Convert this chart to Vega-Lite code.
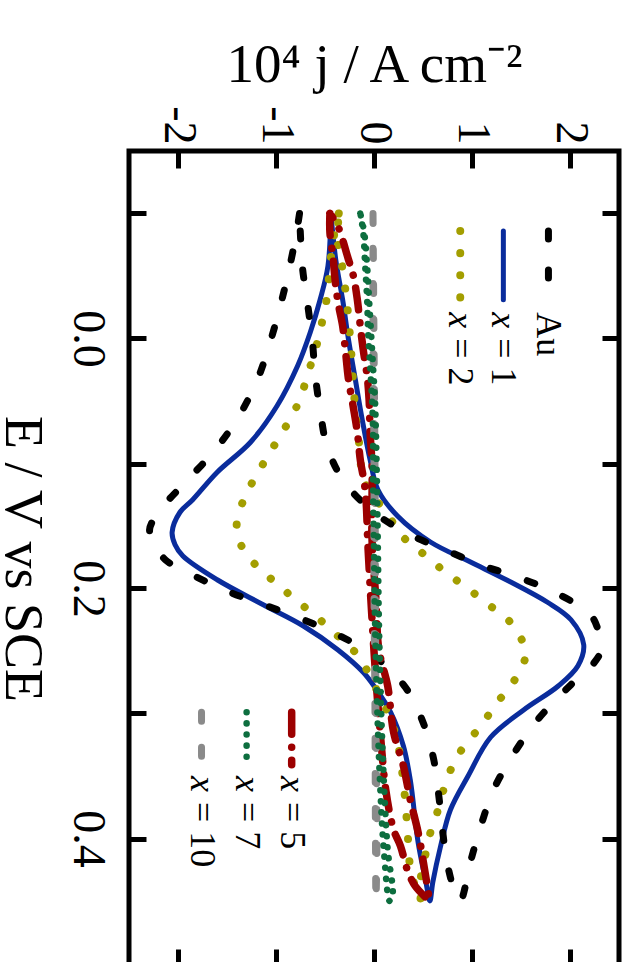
{
"$schema":"https://vega.github.io/schema/vega-lite/v6.json",
"width":490,"height":815,
"autosize":{"type":"none"},
"padding":{"left":129,"top":151,"right":9,"bottom":0},
"config":{
 "view":{"stroke":"black","strokeWidth":5},
 "font":"Liberation Serif",
 "axis":{"grid":false,"domain":false,"tickColor":"black","tickWidth":5,"tickSize":-17,"labelColor":"black","titleColor":"black","labelFont":"Liberation Serif","titleFont":"Liberation Serif","titleFontWeight":"normal","labelOverlap":false,"labelFlush":false}
},
"resolve":{"axis":{"x":"independent","y":"independent"}},
"datasets":{
"cv":[
{"s":"Au","i":0,"j":-0.76,"E":-0.1},{"s":"Au","i":1,"j":-0.79,"E":-0.085},{"s":"Au","i":2,"j":-0.87,"E":-0.054},{"s":"Au","i":3,"j":-0.96,"E":-0.025},{"s":"Au","i":4,"j":-1.06,"E":0.003},{"s":"Au","i":5,"j":-1.18,"E":0.031},{"s":"Au","i":6,"j":-1.37,"E":0.061},{"s":"Au","i":7,"j":-1.62,"E":0.089},{"s":"Au","i":8,"j":-1.95,"E":0.117},{"s":"Au","i":9,"j":-2.18,"E":0.137},{"s":"Au","i":10,"j":-2.29,"E":0.153},{"s":"Au","i":11,"j":-2.23,"E":0.165},{"s":"Au","i":12,"j":-2.13,"E":0.177},{"s":"Au","i":13,"j":-1.83,"E":0.19},{"s":"Au","i":14,"j":-1.47,"E":0.203},{"s":"Au","i":15,"j":-1.09,"E":0.214},{"s":"Au","i":16,"j":-0.72,"E":0.225},{"s":"Au","i":17,"j":-0.37,"E":0.237},{"s":"Au","i":18,"j":0.0,"E":0.254},{"s":"Au","i":19,"j":0.32,"E":0.279},{"s":"Au","i":20,"j":0.51,"E":0.309},{"s":"Au","i":21,"j":0.61,"E":0.337},{"s":"Au","i":22,"j":0.66,"E":0.365},{"s":"Au","i":23,"j":0.7,"E":0.394},{"s":"Au","i":24,"j":0.75,"E":0.421},{"s":"Au","i":25,"j":0.84,"E":0.446},{"s":"Au","i":26,"j":0.88,"E":0.45},{"s":"Au","i":27,"j":0.99,"E":0.417},{"s":"Au","i":28,"j":1.09,"E":0.39},{"s":"Au","i":29,"j":1.22,"E":0.361},{"s":"Au","i":30,"j":1.42,"E":0.333},{"s":"Au","i":31,"j":1.67,"E":0.305},{"s":"Au","i":32,"j":2.01,"E":0.277},{"s":"Au","i":33,"j":2.23,"E":0.261},{"s":"Au","i":34,"j":2.32,"E":0.249},{"s":"Au","i":35,"j":2.3,"E":0.237},{"s":"Au","i":36,"j":2.21,"E":0.221},{"s":"Au","i":37,"j":1.84,"E":0.203},{"s":"Au","i":38,"j":1.47,"E":0.191},{"s":"Au","i":39,"j":1.12,"E":0.182},{"s":"Au","i":40,"j":0.75,"E":0.17},{"s":"Au","i":41,"j":0.37,"E":0.157},{"s":"Au","i":42,"j":0.0,"E":0.139},{"s":"Au","i":43,"j":-0.31,"E":0.114},{"s":"Au","i":44,"j":-0.48,"E":0.086},{"s":"Au","i":45,"j":-0.55,"E":0.057},{"s":"Au","i":46,"j":-0.6,"E":0.029},{"s":"Au","i":47,"j":-0.63,"E":0.001},{"s":"Au","i":48,"j":-0.68,"E":-0.029},{"s":"Au","i":49,"j":-0.73,"E":-0.057},{"s":"Au","i":50,"j":-0.76,"E":-0.1},
{"s":"x1","i":0,"j":-0.44,"E":-0.1},{"s":"x1","i":1,"j":-0.47,"E":-0.058},{"s":"x1","i":2,"j":-0.55,"E":-0.031},{"s":"x1","i":3,"j":-0.65,"E":-0.005},{"s":"x1","i":4,"j":-0.78,"E":0.022},{"s":"x1","i":5,"j":-0.99,"E":0.054},{"s":"x1","i":6,"j":-1.26,"E":0.083},{"s":"x1","i":7,"j":-1.6,"E":0.107},{"s":"x1","i":8,"j":-1.85,"E":0.129},{"s":"x1","i":9,"j":-1.98,"E":0.139},{"s":"x1","i":10,"j":-2.06,"E":0.155},{"s":"x1","i":11,"j":-2.03,"E":0.165},{"s":"x1","i":12,"j":-1.95,"E":0.174},{"s":"x1","i":13,"j":-1.6,"E":0.193},{"s":"x1","i":14,"j":-1.13,"E":0.213},{"s":"x1","i":15,"j":-0.72,"E":0.23},{"s":"x1","i":16,"j":-0.37,"E":0.249},{"s":"x1","i":17,"j":-0.11,"E":0.267},{"s":"x1","i":18,"j":0.0,"E":0.278},{"s":"x1","i":19,"j":0.17,"E":0.299},{"s":"x1","i":20,"j":0.3,"E":0.326},{"s":"x1","i":21,"j":0.37,"E":0.353},{"s":"x1","i":22,"j":0.45,"E":0.403},{"s":"x1","i":23,"j":0.53,"E":0.435},{"s":"x1","i":24,"j":0.57,"E":0.45},{"s":"x1","i":25,"j":0.6,"E":0.435},{"s":"x1","i":26,"j":0.68,"E":0.406},{"s":"x1","i":27,"j":0.78,"E":0.377},{"s":"x1","i":28,"j":0.96,"E":0.35},{"s":"x1","i":29,"j":1.19,"E":0.319},{"s":"x1","i":30,"j":1.53,"E":0.297},{"s":"x1","i":31,"j":1.88,"E":0.278},{"s":"x1","i":32,"j":2.08,"E":0.262},{"s":"x1","i":33,"j":2.14,"E":0.245},{"s":"x1","i":34,"j":2.01,"E":0.225},{"s":"x1","i":35,"j":1.77,"E":0.211},{"s":"x1","i":36,"j":1.4,"E":0.195},{"s":"x1","i":37,"j":0.99,"E":0.179},{"s":"x1","i":38,"j":0.58,"E":0.163},{"s":"x1","i":39,"j":0.24,"E":0.142},{"s":"x1","i":40,"j":0.04,"E":0.121},{"s":"x1","i":41,"j":-0.04,"E":0.097},{"s":"x1","i":42,"j":-0.12,"E":0.065},{"s":"x1","i":43,"j":-0.19,"E":0.033},{"s":"x1","i":44,"j":-0.26,"E":0.001},{"s":"x1","i":45,"j":-0.32,"E":-0.031},{"s":"x1","i":46,"j":-0.39,"E":-0.063},{"s":"x1","i":47,"j":-0.44,"E":-0.1},
{"s":"x2","i":0,"j":-0.36,"E":-0.1},{"s":"x2","i":1,"j":-0.42,"E":-0.077},{"s":"x2","i":2,"j":-0.47,"E":-0.041},{"s":"x2","i":3,"j":-0.5,"E":-0.023},{"s":"x2","i":4,"j":-0.55,"E":-0.007},{"s":"x2","i":5,"j":-0.6,"E":0.01},{"s":"x2","i":6,"j":-0.67,"E":0.027},{"s":"x2","i":7,"j":-0.74,"E":0.045},{"s":"x2","i":8,"j":-0.83,"E":0.061},{"s":"x2","i":9,"j":-0.96,"E":0.078},{"s":"x2","i":10,"j":-1.09,"E":0.095},{"s":"x2","i":11,"j":-1.22,"E":0.112},{"s":"x2","i":12,"j":-1.33,"E":0.129},{"s":"x2","i":13,"j":-1.4,"E":0.147},{"s":"x2","i":14,"j":-1.37,"E":0.163},{"s":"x2","i":15,"j":-1.21,"E":0.181},{"s":"x2","i":16,"j":-1.01,"E":0.195},{"s":"x2","i":17,"j":-0.8,"E":0.209},{"s":"x2","i":18,"j":-0.58,"E":0.223},{"s":"x2","i":19,"j":-0.37,"E":0.238},{"s":"x2","i":20,"j":-0.16,"E":0.254},{"s":"x2","i":21,"j":0.02,"E":0.28},{"s":"x2","i":22,"j":0.17,"E":0.305},{"s":"x2","i":23,"j":0.24,"E":0.323},{"s":"x2","i":24,"j":0.3,"E":0.355},{"s":"x2","i":25,"j":0.34,"E":0.391},{"s":"x2","i":26,"j":0.37,"E":0.423},{"s":"x2","i":27,"j":0.45,"E":0.446},{"s":"x2","i":28,"j":0.47,"E":0.45},{"s":"x2","i":29,"j":0.48,"E":0.43},{"s":"x2","i":30,"j":0.53,"E":0.411},{"s":"x2","i":31,"j":0.58,"E":0.394},{"s":"x2","i":32,"j":0.65,"E":0.378},{"s":"x2","i":33,"j":0.71,"E":0.361},{"s":"x2","i":34,"j":0.8,"E":0.342},{"s":"x2","i":35,"j":0.92,"E":0.326},{"s":"x2","i":36,"j":1.09,"E":0.31},{"s":"x2","i":37,"j":1.24,"E":0.293},{"s":"x2","i":38,"j":1.42,"E":0.275},{"s":"x2","i":39,"j":1.53,"E":0.259},{"s":"x2","i":40,"j":1.55,"E":0.251},{"s":"x2","i":41,"j":1.52,"E":0.243},{"s":"x2","i":42,"j":1.38,"E":0.226},{"s":"x2","i":43,"j":1.17,"E":0.213},{"s":"x2","i":44,"j":0.94,"E":0.199},{"s":"x2","i":45,"j":0.73,"E":0.187},{"s":"x2","i":46,"j":0.53,"E":0.174},{"s":"x2","i":47,"j":0.3,"E":0.159},{"s":"x2","i":48,"j":0.14,"E":0.141},{"s":"x2","i":49,"j":-0.11,"E":0.113},{"s":"x2","i":50,"j":-0.14,"E":0.091},{"s":"x2","i":51,"j":-0.17,"E":0.073},{"s":"x2","i":52,"j":-0.21,"E":0.038},{"s":"x2","i":53,"j":-0.24,"E":0.003},{"s":"x2","i":54,"j":-0.28,"E":-0.031},{"s":"x2","i":55,"j":-0.34,"E":-0.065},{"s":"x2","i":56,"j":-0.37,"E":-0.077},{"s":"x2","i":57,"j":-0.36,"E":-0.1},
{"s":"x5","i":0,"j":-0.45,"E":-0.1},{"s":"x5","i":1,"j":-0.45,"E":-0.085},{"s":"x5","i":2,"j":-0.42,"E":-0.066},{"s":"x5","i":3,"j":-0.39,"E":-0.042},{"s":"x5","i":4,"j":-0.36,"E":-0.026},{"s":"x5","i":5,"j":-0.32,"E":-0.01},{"s":"x5","i":6,"j":-0.29,"E":0.011},{"s":"x5","i":7,"j":-0.26,"E":0.033},{"s":"x5","i":8,"j":-0.22,"E":0.051},{"s":"x5","i":9,"j":-0.17,"E":0.075},{"s":"x5","i":10,"j":-0.14,"E":0.097},{"s":"x5","i":11,"j":-0.09,"E":0.121},{"s":"x5","i":12,"j":-0.06,"E":0.169},{"s":"x5","i":13,"j":-0.02,"E":0.225},{"s":"x5","i":14,"j":0.02,"E":0.273},{"s":"x5","i":15,"j":0.07,"E":0.321},{"s":"x5","i":16,"j":0.12,"E":0.361},{"s":"x5","i":17,"j":0.2,"E":0.393},{"s":"x5","i":18,"j":0.27,"E":0.406},{"s":"x5","i":19,"j":0.34,"E":0.425},{"s":"x5","i":20,"j":0.42,"E":0.438},{"s":"x5","i":21,"j":0.55,"E":0.449},{"s":"x5","i":22,"j":0.56,"E":0.45},{"s":"x5","i":23,"j":0.5,"E":0.417},{"s":"x5","i":24,"j":0.45,"E":0.395},{"s":"x5","i":25,"j":0.37,"E":0.369},{"s":"x5","i":26,"j":0.3,"E":0.342},{"s":"x5","i":27,"j":0.2,"E":0.315},{"s":"x5","i":28,"j":0.14,"E":0.278},{"s":"x5","i":29,"j":0.05,"E":0.249},{"s":"x5","i":30,"j":0.02,"E":0.209},{"s":"x5","i":31,"j":-0.02,"E":0.161},{"s":"x5","i":32,"j":-0.02,"E":0.102},{"s":"x5","i":33,"j":-0.04,"E":0.075},{"s":"x5","i":34,"j":-0.05,"E":0.049},{"s":"x5","i":35,"j":-0.07,"E":0.03},{"s":"x5","i":36,"j":-0.11,"E":0.009},{"s":"x5","i":37,"j":-0.14,"E":-0.01},{"s":"x5","i":38,"j":-0.17,"E":-0.031},{"s":"x5","i":39,"j":-0.21,"E":-0.05},{"s":"x5","i":40,"j":-0.26,"E":-0.063},{"s":"x5","i":41,"j":-0.37,"E":-0.09},{"s":"x5","i":42,"j":-0.45,"E":-0.1},
{"s":"x7","i":0,"j":-0.14,"E":-0.1},{"s":"x7","i":1,"j":-0.11,"E":-0.085},{"s":"x7","i":2,"j":-0.09,"E":-0.058},{"s":"x7","i":3,"j":-0.07,"E":-0.031},{"s":"x7","i":4,"j":-0.06,"E":-0.005},{"s":"x7","i":5,"j":-0.04,"E":0.022},{"s":"x7","i":6,"j":-0.02,"E":0.049},{"s":"x7","i":7,"j":-0.01,"E":0.075},{"s":"x7","i":8,"j":-0.01,"E":0.115},{"s":"x7","i":9,"j":0.0,"E":0.169},{"s":"x7","i":10,"j":0.01,"E":0.225},{"s":"x7","i":11,"j":0.03,"E":0.289},{"s":"x7","i":12,"j":0.06,"E":0.353},{"s":"x7","i":13,"j":0.1,"E":0.409},{"s":"x7","i":14,"j":0.16,"E":0.45},{"s":"x7","i":15,"j":0.19,"E":0.445},{"s":"x7","i":16,"j":0.14,"E":0.409},{"s":"x7","i":17,"j":0.1,"E":0.353},{"s":"x7","i":18,"j":0.07,"E":0.289},{"s":"x7","i":19,"j":0.05,"E":0.225},{"s":"x7","i":20,"j":0.04,"E":0.169},{"s":"x7","i":21,"j":0.03,"E":0.115},{"s":"x7","i":22,"j":0.02,"E":0.075},{"s":"x7","i":23,"j":0.01,"E":0.049},{"s":"x7","i":24,"j":-0.01,"E":0.022},{"s":"x7","i":25,"j":-0.03,"E":-0.005},{"s":"x7","i":26,"j":-0.05,"E":-0.031},{"s":"x7","i":27,"j":-0.07,"E":-0.058},{"s":"x7","i":28,"j":-0.1,"E":-0.085},{"s":"x7","i":29,"j":-0.14,"E":-0.1},
{"s":"x10","i":0,"j":-0.01,"E":-0.1},{"s":"x10","i":1,"j":-0.01,"E":0.0},{"s":"x10","i":2,"j":0.0,"E":0.1},{"s":"x10","i":3,"j":0.0,"E":0.2},{"s":"x10","i":4,"j":0.01,"E":0.3},{"s":"x10","i":5,"j":0.015,"E":0.4},{"s":"x10","i":6,"j":0.02,"E":0.45},{"s":"x10","i":7,"j":0.03,"E":0.4},{"s":"x10","i":8,"j":0.02,"E":0.3},{"s":"x10","i":9,"j":0.015,"E":0.2},{"s":"x10","i":10,"j":0.01,"E":0.1},{"s":"x10","i":11,"j":0.0,"E":0.0},{"s":"x10","i":12,"j":-0.01,"E":-0.1}
],
"legend":[
{"s":"Au","j":1.78,"E":-0.086,"E2":-0.031,"Et":-0.021,"pre":"","rest":"Au"},
{"s":"x1","j":1.32,"E":-0.086,"E2":-0.031,"Et":-0.021,"pre":"x","rest":"= 1"},
{"s":"x2","j":0.88,"E":-0.086,"E2":-0.031,"Et":-0.021,"pre":"x","rest":"= 2"},
{"s":"x5","j":-0.84,"E":0.299,"E2":0.341,"Et":0.35,"pre":"x","rest":"= 5"},
{"s":"x7","j":-1.3,"E":0.299,"E2":0.341,"Et":0.35,"pre":"x","rest":"= 7"},
{"s":"x10","j":-1.76,"E":0.299,"E2":0.341,"Et":0.35,"pre":"x","rest":"= 10"}
]
},
"layer":[
{"data":{"name":"cv"},"transform":[{"filter":"datum.s === 'x1'"}],
 "mark":{"type":"line","color":"#0a2c9c","strokeWidth":5,"strokeCap":"round","interpolate":"catmull-rom"},
 "encoding":{
  "x":{"field":"j","type":"quantitative","scale":{"domain":[-2.5,2.5],"nice":false,"zero":false},
   "axis":{"orient":"top","values":[-2,-1,0,1,2],"labelExpr":"datum.value < 0 ? '-' + abs(datum.value) : '' + datum.value","labelAngle":90,"labelAlign":"right","labelBaseline":"middle","labelFontSize":46,"labelPadding":24,"title":"10⁴ j / A cm⁻²","titleFontSize":55,"titlePadding":12}},
  "y":{"field":"E","type":"quantitative","scale":{"domain":[-0.15,0.502],"nice":false,"zero":false,"reverse":true},
   "axis":{"orient":"left","values":[-0.1,0,0.1,0.2,0.3,0.4],"labelExpr":"indexof(['0.0','0.2','0.4'], format(datum.value, '.1f')) >= 0 ? format(datum.value, '.1f') : ''","labelAngle":90,"labelAlign":"center","labelBaseline":"top","labelFontSize":46,"labelPadding":37,"title":"E / V vs SCE","titleAngle":90,"titleBaseline":"top","titleAlign":"center","titleFontSize":54,"titlePadding":16}},
  "order":{"field":"i","type":"quantitative"}}},
{"data":{"name":"cv"},"transform":[{"filter":"datum.s === 'x2'"}],
 "mark":{"type":"line","color":"#a39e00","strokeWidth":8,"strokeDash":[0.1,22],"strokeCap":"round","interpolate":"catmull-rom"},
 "encoding":{"x":{"field":"j","type":"quantitative","scale":{"domain":[-2.5,2.5],"nice":false,"zero":false},"axis":null},
  "y":{"field":"E","type":"quantitative","scale":{"domain":[-0.15,0.502],"nice":false,"zero":false,"reverse":true},"axis":null},
  "order":{"field":"i","type":"quantitative"}}},
{"data":{"name":"cv"},"transform":[{"filter":"datum.s === 'Au'"}],
 "mark":{"type":"line","color":"#000000","strokeWidth":7,"strokeDash":[8,31],"strokeCap":"round","interpolate":"catmull-rom"},
 "encoding":{"x":{"field":"j","type":"quantitative","scale":{"domain":[-2.5,2.5],"nice":false,"zero":false},"axis":null},
  "y":{"field":"E","type":"quantitative","scale":{"domain":[-0.15,0.502],"nice":false,"zero":false,"reverse":true},"axis":null},
  "order":{"field":"i","type":"quantitative"}}},
{"data":{"name":"cv"},"transform":[{"filter":"datum.s === 'x5'"}],
 "mark":{"type":"line","color":"#9c0000","strokeWidth":7.5,"strokeDash":[22,13,0.1,13],"strokeCap":"round","interpolate":"catmull-rom"},
 "encoding":{"x":{"field":"j","type":"quantitative","scale":{"domain":[-2.5,2.5],"nice":false,"zero":false},"axis":null},
  "y":{"field":"E","type":"quantitative","scale":{"domain":[-0.15,0.502],"nice":false,"zero":false,"reverse":true},"axis":null},
  "order":{"field":"i","type":"quantitative"}}},
{"data":{"name":"cv"},"transform":[{"filter":"datum.s === 'x10'"}],
 "mark":{"type":"line","color":"#8a8a8a","strokeWidth":7,"strokeDash":[9,26],"strokeCap":"round","interpolate":"catmull-rom"},
 "encoding":{"x":{"field":"j","type":"quantitative","scale":{"domain":[-2.5,2.5],"nice":false,"zero":false},"axis":null},
  "y":{"field":"E","type":"quantitative","scale":{"domain":[-0.15,0.502],"nice":false,"zero":false,"reverse":true},"axis":null},
  "order":{"field":"i","type":"quantitative"}}},
{"data":{"name":"cv"},"transform":[{"filter":"datum.s === 'x7'"}],
 "mark":{"type":"line","color":"#0d6e3f","strokeWidth":6.5,"strokeDash":[0.1,11],"strokeCap":"round","interpolate":"catmull-rom"},
 "encoding":{"x":{"field":"j","type":"quantitative","scale":{"domain":[-2.5,2.5],"nice":false,"zero":false},"axis":null},
  "y":{"field":"E","type":"quantitative","scale":{"domain":[-0.15,0.502],"nice":false,"zero":false,"reverse":true},"axis":null},
  "order":{"field":"i","type":"quantitative"}}},
{"data":{"name":"legend"},"transform":[{"filter":"datum.s === 'Au'"}],
 "mark":{"type":"rule","color":"#000000","strokeWidth":7,"strokeDash":[8,31],"strokeCap":"round"},
 "encoding":{"x":{"field":"j","type":"quantitative","scale":{"domain":[-2.5,2.5],"nice":false,"zero":false},
   "axis":{"orient":"bottom","values":[-2,-1,0,1,2],"labels":false,"title":null}},
  "y":{"field":"E","type":"quantitative","scale":{"domain":[-0.15,0.502],"nice":false,"zero":false,"reverse":true},
   "axis":{"orient":"right","values":[-0.1,0,0.1,0.2,0.3,0.4],"labels":false,"title":null}},
  "y2":{"field":"E2"}}},
{"data":{"name":"legend"},"transform":[{"filter":"datum.s === 'x1'"}],
 "mark":{"type":"rule","color":"#0a2c9c","strokeWidth":5,"strokeCap":"round"},
 "encoding":{"x":{"field":"j","type":"quantitative","scale":{"domain":[-2.5,2.5],"nice":false,"zero":false},"axis":null},
  "y":{"field":"E","type":"quantitative","scale":{"domain":[-0.15,0.502],"nice":false,"zero":false,"reverse":true},"axis":null},"y2":{"field":"E2"}}},
{"data":{"name":"legend"},"transform":[{"filter":"datum.s === 'x2'"}],
 "mark":{"type":"rule","color":"#a39e00","strokeWidth":8,"strokeDash":[0.1,22],"strokeCap":"round"},
 "encoding":{"x":{"field":"j","type":"quantitative","scale":{"domain":[-2.5,2.5],"nice":false,"zero":false},"axis":null},
  "y":{"field":"E","type":"quantitative","scale":{"domain":[-0.15,0.502],"nice":false,"zero":false,"reverse":true},"axis":null},"y2":{"field":"E2"}}},
{"data":{"name":"legend"},"transform":[{"filter":"datum.s === 'x5'"}],
 "mark":{"type":"rule","color":"#9c0000","strokeWidth":7.5,"strokeDash":[22,13,0.1,13],"strokeCap":"round"},
 "encoding":{"x":{"field":"j","type":"quantitative","scale":{"domain":[-2.5,2.5],"nice":false,"zero":false},"axis":null},
  "y":{"field":"E","type":"quantitative","scale":{"domain":[-0.15,0.502],"nice":false,"zero":false,"reverse":true},"axis":null},"y2":{"field":"E2"}}},
{"data":{"name":"legend"},"transform":[{"filter":"datum.s === 'x7'"}],
 "mark":{"type":"rule","color":"#0d6e3f","strokeWidth":6.5,"strokeDash":[0.1,11],"strokeCap":"round"},
 "encoding":{"x":{"field":"j","type":"quantitative","scale":{"domain":[-2.5,2.5],"nice":false,"zero":false},"axis":null},
  "y":{"field":"E","type":"quantitative","scale":{"domain":[-0.15,0.502],"nice":false,"zero":false,"reverse":true},"axis":null},"y2":{"field":"E2"}}},
{"data":{"name":"legend"},"transform":[{"filter":"datum.s === 'x10'"}],
 "mark":{"type":"rule","color":"#8a8a8a","strokeWidth":7,"strokeDash":[9,26],"strokeCap":"round"},
 "encoding":{"x":{"field":"j","type":"quantitative","scale":{"domain":[-2.5,2.5],"nice":false,"zero":false},"axis":null},
  "y":{"field":"E","type":"quantitative","scale":{"domain":[-0.15,0.502],"nice":false,"zero":false,"reverse":true},"axis":null},"y2":{"field":"E2"}}},
{"data":{"name":"legend"},"transform":[{"filter":"datum.pre === ''"}],
 "mark":{"type":"text","angle":90,"align":"left","baseline":"middle","fontSize":36,"font":"Liberation Serif","color":"black"},
 "encoding":{"x":{"field":"j","type":"quantitative","scale":{"domain":[-2.5,2.5],"nice":false,"zero":false},"axis":null},
  "y":{"field":"Et","type":"quantitative","scale":{"domain":[-0.15,0.502],"nice":false,"zero":false,"reverse":true},"axis":null},
  "text":{"field":"rest"}}},
{"data":{"name":"legend"},"transform":[{"filter":"datum.pre === 'x'"}],
 "mark":{"type":"text","angle":90,"align":"left","baseline":"middle","fontSize":36,"font":"Liberation Serif","fontStyle":"italic","color":"black"},
 "encoding":{"x":{"field":"j","type":"quantitative","scale":{"domain":[-2.5,2.5],"nice":false,"zero":false},"axis":null},
  "y":{"field":"Et","type":"quantitative","scale":{"domain":[-0.15,0.502],"nice":false,"zero":false,"reverse":true},"axis":null},
  "text":{"field":"pre"}}},
{"data":{"name":"legend"},"transform":[{"filter":"datum.pre === 'x'"}],
 "mark":{"type":"text","angle":90,"align":"left","baseline":"middle","fontSize":36,"font":"Liberation Serif","color":"black","dx":26},
 "encoding":{"x":{"field":"j","type":"quantitative","scale":{"domain":[-2.5,2.5],"nice":false,"zero":false},"axis":null},
  "y":{"field":"Et","type":"quantitative","scale":{"domain":[-0.15,0.502],"nice":false,"zero":false,"reverse":true},"axis":null},
  "text":{"field":"rest"}}}
]
}
